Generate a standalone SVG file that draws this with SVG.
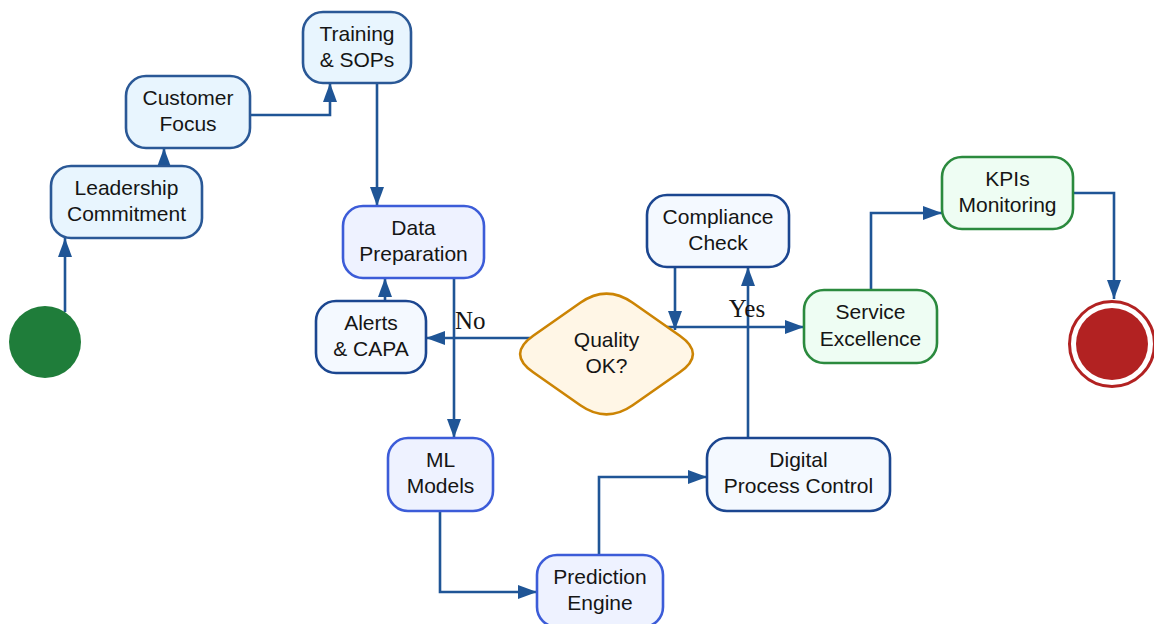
<svg xmlns="http://www.w3.org/2000/svg" width="1154" height="624" viewBox="0 0 1154 624">
  <style>
    .node rect { stroke-width: 2.6; }
    .n1 rect { fill: #e8f5fe; stroke: #2a5896; }
    .n2 rect { fill: #eef2ff; stroke: #3c5cd8; }
    .n3 rect { fill: #f4f9ff; stroke: #1b4690; }
    .n4 rect { fill: #eefdf3; stroke: #2b8a3e; }
    .lbl { font-family: "Liberation Sans", Arial, sans-serif; font-size: 21px; fill: #151515; text-anchor: middle; }
    .edge { fill: none; stroke: #1f5596; stroke-width: 2.6; marker-end: url(#arrow); }
    .elbl { font-family: "Liberation Serif", "Times New Roman", serif; font-size: 25px; fill: #151515; }
  </style>
  <defs>
    <marker id="arrow" markerUnits="userSpaceOnUse" markerWidth="19" markerHeight="14" viewBox="0 0 19 14" refX="19" refY="7" orient="auto">
      <path d="M0,0 L19,7 L0,14 z" fill="#1f5596"/>
    </marker>
  </defs>
  <rect width="1154" height="624" fill="#ffffff"/>

  <g id="connectors">
    <path class="edge" d="M65,312 L65,238"/>
    <path class="edge" d="M164,166 L164,148"/>
    <path class="edge" d="M250,115 L330,115 L330,83"/>
    <path class="edge" d="M377,83 L377,206"/>
    <path class="edge" d="M454,278 L454,438"/>
    <path class="edge" d="M440,511 L440,592 L537,592"/>
    <path class="edge" d="M599,555 L599,477 L707,477"/>
    <path class="edge" d="M748,438 L748,267"/>
    <path class="edge" d="M675,267 L675,330"/>
    <path class="edge" d="M667,327 L804,327"/>
    <path class="edge" d="M530,338 L426,338"/>
    <path class="edge" d="M385,301 L385,278"/>
    <path class="edge" d="M871,290 L871,213 L942,213"/>
    <path class="edge" d="M1073,193 L1114,193 L1114,299"/>
    <text class="elbl" x="455" y="329">No</text>
    <text class="elbl" x="747" y="317" text-anchor="middle">Yes</text>
  </g>

  <g id="start">
    <circle cx="45" cy="342" r="36" fill="#1f7d3a"/>
  </g>

  <g id="leadership" class="node n1">
    <rect x="51" y="166" width="151" height="72" rx="20"/>
    <text class="lbl" x="126.5" y="195">Leadership</text>
    <text class="lbl" x="126.5" y="221">Commitment</text>
  </g>
  <g id="customer" class="node n1">
    <rect x="126" y="76" width="124" height="72" rx="20"/>
    <text class="lbl" x="188" y="105">Customer</text>
    <text class="lbl" x="188" y="131">Focus</text>
  </g>
  <g id="training" class="node n1">
    <rect x="303" y="12" width="108" height="71" rx="20"/>
    <text class="lbl" x="357" y="41">Training</text>
    <text class="lbl" x="357" y="67">&amp; SOPs</text>
  </g>
  <g id="dataprep" class="node n2">
    <rect x="343" y="206" width="141" height="72" rx="20"/>
    <text class="lbl" x="413.5" y="235">Data</text>
    <text class="lbl" x="413.5" y="261">Preparation</text>
  </g>
  <g id="alerts" class="node n3">
    <rect x="316" y="301" width="110" height="72" rx="20"/>
    <text class="lbl" x="371" y="330">Alerts</text>
    <text class="lbl" x="371" y="356">&amp; CAPA</text>
  </g>
  <g id="ml" class="node n2">
    <rect x="388" y="438" width="105" height="73" rx="20"/>
    <text class="lbl" x="440.5" y="467">ML</text>
    <text class="lbl" x="440.5" y="493">Models</text>
  </g>
  <g id="prediction" class="node n2">
    <rect x="537" y="555" width="126" height="72" rx="20"/>
    <text class="lbl" x="600" y="584">Prediction</text>
    <text class="lbl" x="600" y="610">Engine</text>
  </g>
  <g id="digital" class="node n3">
    <rect x="707" y="438" width="183" height="73" rx="20"/>
    <text class="lbl" x="798.5" y="467">Digital</text>
    <text class="lbl" x="798.5" y="493">Process Control</text>
  </g>
  <g id="compliance" class="node n3">
    <rect x="647" y="195" width="142" height="72" rx="20"/>
    <text class="lbl" x="718" y="224">Compliance</text>
    <text class="lbl" x="718" y="250">Check</text>
  </g>
  <g id="quality">
    <path d="M632.7,302.8 L679.8,335.7 Q706,354 679.8,372.3 L632.7,405.2 Q606.5,423.5 580.3,405.2 L533.2,372.3 Q507,354 533.2,335.7 L580.3,302.8 Q606.5,284.5 632.7,302.8 Z" fill="#fff6e6" stroke="#cc8404" stroke-width="2.6"/>
    <text class="lbl" x="606.5" y="347">Quality</text>
    <text class="lbl" x="606.5" y="373">OK?</text>
  </g>
  <g id="service" class="node n4">
    <rect x="804" y="290" width="133" height="73" rx="20"/>
    <text class="lbl" x="870.5" y="319">Service</text>
    <text class="lbl" x="870.5" y="346">Excellence</text>
  </g>
  <g id="kpis" class="node n4">
    <rect x="942" y="157" width="131" height="72" rx="20"/>
    <text class="lbl" x="1007.5" y="186">KPIs</text>
    <text class="lbl" x="1007.5" y="212">Monitoring</text>
  </g>

  <g id="end">
    <circle cx="1112" cy="344" r="42.5" fill="#ffffff" stroke="#b22222" stroke-width="3"/>
    <circle cx="1112" cy="344" r="36" fill="#b22222"/>
  </g>
</svg>
